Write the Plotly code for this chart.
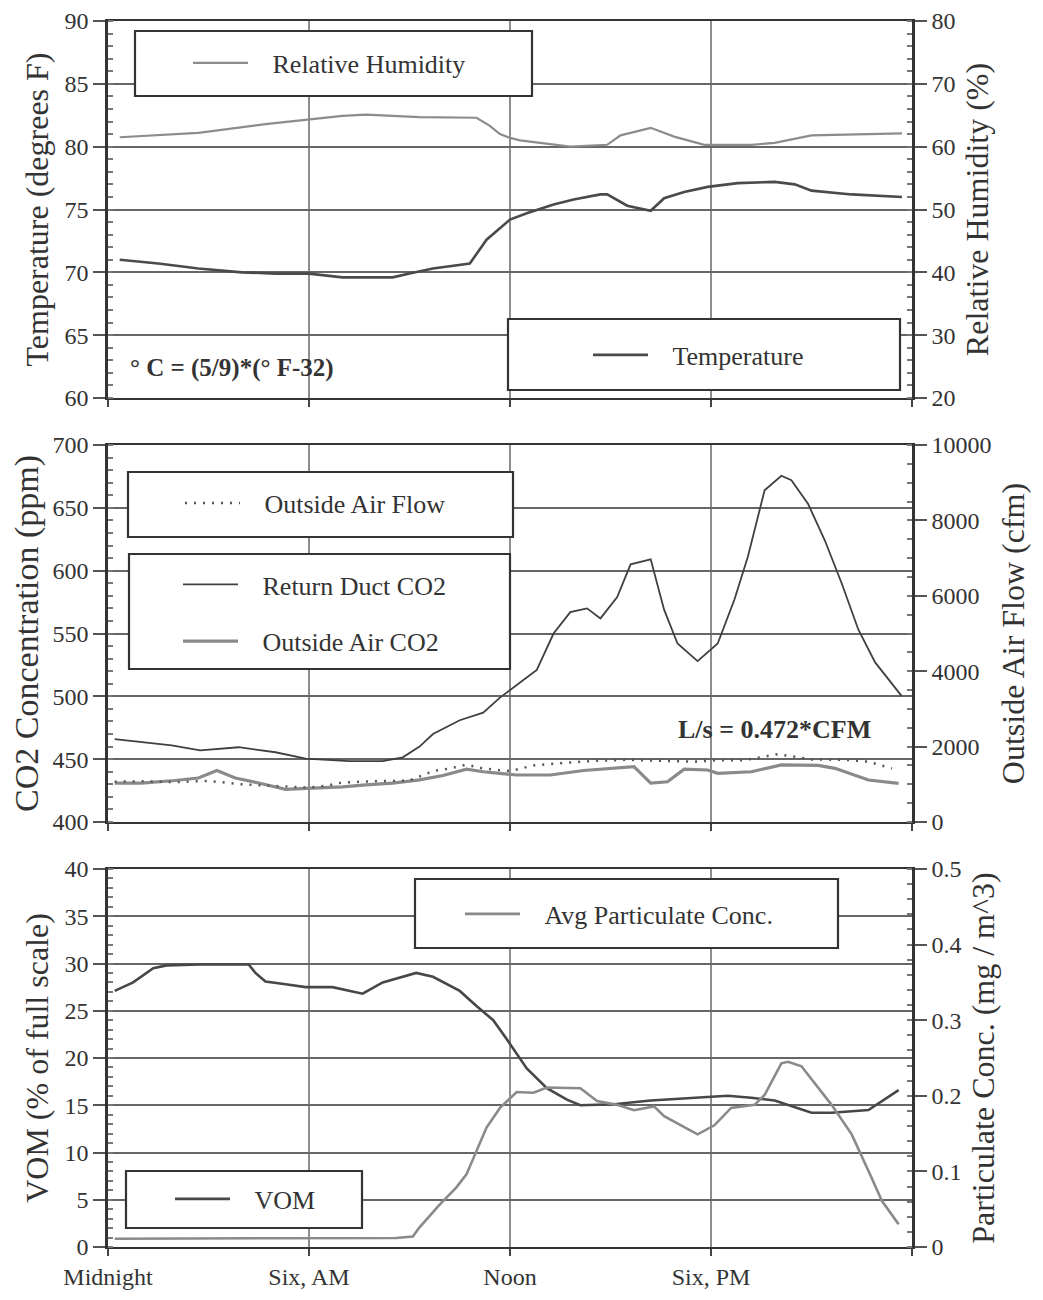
import plotly.graph_objects as go

# ---------------- data (hours after midnight) ----------------
temp_hours = [0.35, 1.5, 2.7, 4.0, 5.0, 6.0, 7.0, 8.0, 8.5, 9.0, 9.7, 10.8, 11.3, 12.0, 12.5, 13.3, 13.9,
              14.7, 14.9, 15.5, 16.2, 16.6, 17.2, 17.9, 18.8, 19.9, 20.5, 21.0, 22.2, 23.7]
temp_vals = [71.0, 70.7, 70.3, 70.0, 69.9, 69.9, 69.6, 69.6, 69.6, 69.9, 70.3, 70.7, 72.6, 74.2, 74.7, 75.4, 75.8,
             76.2, 76.2, 75.3, 74.9, 75.9, 76.4, 76.8, 77.1, 77.2, 77.0, 76.5, 76.2, 76.0]

rh_hours = [0.35, 2.7, 4.7, 6.0, 7.0, 7.7, 8.7, 9.3, 11.0, 11.4, 11.7, 12.0, 12.3, 13.8, 14.9, 15.3, 16.2,
            16.9, 17.8, 19.2, 19.9, 21.0, 23.7]
rh_vals = [61.5, 62.2, 63.6, 64.4, 64.9, 65.1, 64.9, 64.7, 64.6, 63.3, 62.0, 61.4, 61.0, 60.0, 60.3, 61.8, 63.0,
           61.6, 60.3, 60.3, 60.6, 61.8, 62.1]

rco2_hours = [0.2, 1.9, 2.75, 3.9, 5.0, 5.9, 7.2, 8.2, 8.8, 9.3, 9.7, 10.5, 11.2, 11.7, 12.3, 12.8, 13.3,
              13.8, 14.3, 14.7, 15.2, 15.6, 16.2, 16.6, 17.0, 17.6, 18.2, 18.7, 19.1, 19.6, 20.1, 20.4,
              20.9, 21.4, 21.9, 22.4, 22.9, 23.7]
rco2_vals = [466, 461, 457, 459.5, 455.5, 450.5, 448.5, 448.5, 451.5, 460, 470, 481, 487, 499, 511, 521, 550,
             567, 570, 562, 579, 605, 609, 569, 542, 528, 542, 577, 611, 664, 675.5, 672,
             653, 624, 590, 553, 527, 500]

oco2_hours = [0.2, 1.0, 2.0, 2.7, 3.25, 3.8, 4.5, 5.3, 6.1, 7.0, 7.7, 8.5, 9.3, 10.0, 10.7, 11.2, 11.7,
              12.2, 13.2, 14.2, 15.7, 16.2, 16.7, 17.2, 17.9, 18.2, 19.2, 20.1, 21.2, 21.7, 22.7, 23.6]
oco2_vals = [431, 431, 433, 435, 441, 435, 431, 426, 427, 428, 429.5, 431, 433.5, 437, 442, 440, 438.7,
             437.4, 437.4, 441, 444, 431, 432, 442, 441.4, 438.7, 440, 445.4, 445, 442.7, 433.4, 430.8]

flow_hours = [0.2, 1.0, 2.0, 3.0, 4.0, 5.0, 6.0, 6.5, 7.0, 8.0, 9.0, 9.7, 10.2, 10.7, 11.2, 12.0, 12.7,
              13.5, 14.5, 15.5, 16.5, 17.5, 18.2, 19.0, 20.0, 21.0, 22.0, 22.7, 23.4]
flow_vals = [1070, 1080, 1060, 1090, 1000, 950, 910, 960, 1050, 1080, 1100, 1350, 1420, 1520, 1420, 1350, 1500,
             1560, 1620, 1650, 1630, 1600, 1640, 1640, 1800, 1660, 1650, 1600, 1420]

vom_hours = [0.2, 0.75, 1.35, 1.75, 2.75, 4.2, 4.4, 4.7, 5.3, 5.9, 6.7, 7.6, 8.2, 9.2, 9.7, 10.5, 11.0,
             11.5, 11.9, 12.5, 13.1, 13.7, 14.1, 15.1, 16.2, 17.7, 18.5, 19.2, 19.9, 21.0, 21.6, 22.7,
             23.0, 23.6]
vom_vals = [27.1, 28.0, 29.5, 29.8, 29.9, 29.9, 29.0, 28.1, 27.8, 27.5, 27.5, 26.8, 28.0, 29.0, 28.6, 27.1, 25.5,
            24.0, 22.0, 18.9, 16.8, 15.6, 15.0, 15.1, 15.5, 15.8, 16.0, 15.8, 15.5, 14.2, 14.2, 14.5,
            15.2, 16.6]

part_hours = [0.2, 8.6, 9.1, 9.3, 9.9, 10.4, 10.7, 11.0, 11.3, 11.7, 12.2, 12.7, 13.1, 14.1, 14.6, 15.2,
              15.7, 16.3, 16.6, 17.6, 18.1, 18.6, 19.3, 19.6, 20.1, 20.3, 20.7, 21.6, 22.2, 22.8, 23.1, 23.6]
part_vals = [0.011, 0.012, 0.014, 0.026, 0.056, 0.079, 0.096, 0.126, 0.158, 0.184, 0.205, 0.204, 0.211,
             0.210, 0.193, 0.188, 0.181, 0.186, 0.173, 0.149, 0.161, 0.184, 0.188, 0.201, 0.243, 0.245,
             0.239, 0.188, 0.149, 0.091, 0.061, 0.030]

x_tickvals = [0, 6, 12, 18, 24]
x_ticktext = ["Midnight", "Six, AM", "Noon", "Six, PM", ""]

# ---------------- figure ----------------
FONT = "Liberation Serif, Times New Roman, serif"
TXT = "#333333"
OFF = 8                         # page body margin
W, H = 1043 - 2 * OFF, 1300 - 2 * OFF
SX0, SX1, SY0, SY1 = 108, 912, 21, 1247   # plot area in screen pixels
L, T = SX0 - OFF, SY0 - OFF
R = W - (SX1 - OFF)
B = H - (SY1 - OFF)


def px(xs):
    return (xs - SX0) / (SX1 - SX0)


def py(ys):
    return (SY1 - ys) / (SY1 - SY0)


NB = "\u00a0" * 3

fig = go.Figure()

fig.add_trace(go.Scatter(x=rh_hours, y=rh_vals, mode="lines", name=NB + "Relative Humidity",
                         line=dict(color="#8c8c8c", width=2.2), xaxis="x", yaxis="y2", legend="legend"))
fig.add_trace(go.Scatter(x=temp_hours, y=temp_vals, mode="lines", name=NB + "Temperature",
                         line=dict(color="#4a4a4a", width=2.6), xaxis="x", yaxis="y", legend="legend2"))

fig.add_trace(go.Scatter(x=flow_hours, y=flow_vals, mode="lines", name=NB + "Outside Air Flow",
                         line=dict(color="#555555", width=2.5, dash="2px,7px"), xaxis="x2", yaxis="y4",
                         legend="legend3"))
fig.add_trace(go.Scatter(x=oco2_hours, y=oco2_vals, mode="lines", name=NB + "Outside Air CO2",
                         line=dict(color="#8a8a8a", width=3.2), xaxis="x2", yaxis="y3",
                         legend="legend4", legendgroup="b", legendrank=2))
fig.add_trace(go.Scatter(x=rco2_hours, y=rco2_vals, mode="lines", name=NB + "Return Duct CO2",
                         line=dict(color="#404040", width=1.8), xaxis="x2", yaxis="y3",
                         legend="legend4", legendgroup="a", legendrank=1))

fig.add_trace(go.Scatter(x=part_hours, y=part_vals, mode="lines", name=NB + "Avg Particulate Conc.",
                         line=dict(color="#8a8a8a", width=2.6), xaxis="x3", yaxis="y6", legend="legend5"))
fig.add_trace(go.Scatter(x=vom_hours, y=vom_vals, mode="lines", name=NB + "VOM",
                         line=dict(color="#474747", width=2.6), xaxis="x3", yaxis="y5", legend="legend6"))

tickfont = dict(family=FONT, size=24, color=TXT)


def tfont(size=32):
    return dict(family=FONT, size=size, color=TXT)


def xax(anchor, labels):
    return dict(domain=[0, 1], anchor=anchor, range=[0, 24], tickvals=x_tickvals, ticktext=x_ticktext,
                showticklabels=labels, ticks="outside", ticklen=7, tickcolor="#444", tickwidth=1.5,
                showgrid=True, gridcolor="#8e8e8e", gridwidth=1.5, zeroline=False, automargin=False,
                showline=True, mirror=True, linecolor="#333333", linewidth=2,
                tickfont=dict(family=FONT, size=24, color=TXT))


def yleft(domain, anchor, rng, dtick, minor, title, tsize=32):
    return dict(domain=domain, anchor=anchor, range=rng, dtick=dtick, tick0=rng[0],
                ticks="outside", ticklen=12, tickcolor="#555", tickwidth=1.5,
                showgrid=True, gridcolor="#666666", gridwidth=1.8, zeroline=False, automargin=False,
                showline=True, linecolor="#333333", linewidth=2.5,
                minor=dict(ticks="inside", dtick=minor, ticklen=5, tickcolor="#777", showgrid=False),
                tickfont=tickfont, title=dict(text=title, font=tfont(tsize), standoff=7))


def yright(over, anchor, rng, dtick, minor, title, fmt=None):
    d = dict(overlaying=over, side="right", anchor=anchor, range=rng, dtick=dtick, tick0=rng[0],
             ticks="outside", ticklen=12, tickcolor="#555", tickwidth=1.5,
             showgrid=False, zeroline=False, automargin=False,
             showline=True, linecolor="#333333", linewidth=2.5,
             minor=dict(ticks="inside", dtick=minor, ticklen=5, tickcolor="#777", showgrid=False),
             tickfont=tickfont, title=dict(text=title, font=tfont(), standoff=12))
    if fmt:
        d["tickformat"] = fmt
    return d


p1 = [py(398), 1.0]
p2 = [py(822), py(445)]
p3 = [0.0, py(869)]

legfont = dict(family=FONT, size=26, color=TXT)


def leg(sample_x, yc, gap=0):
    return dict(x=px(sample_x - 5), y=py(yc), xanchor="left", yanchor="middle", bgcolor="rgba(0,0,0,0)",
                borderwidth=0, font=legfont, itemwidth=55, tracegroupgap=gap, itemclick=False)


boxes = [(135, 31, 532, 96), (508, 319, 900, 390), (128, 472, 513, 537),
         (129, 554, 510, 669), (415, 879, 838, 948), (126, 1171, 362, 1228)]
shapes = [dict(type="rect", xref="paper", yref="paper", x0=px(a), y0=py(b), x1=px(c), y1=py(d),
               line=dict(color="#333333", width=2.2), fillcolor="white", layer="above")
          for a, b, c, d in boxes]

fig.update_layout(
    width=W, height=H, margin=dict(l=L, r=R, t=T, b=B, autoexpand=False),
    paper_bgcolor="white", plot_bgcolor="white",
    font=dict(family=FONT, color=TXT),
    showlegend=True,
    xaxis=xax("y", False), xaxis2=xax("y3", False), xaxis3=xax("y5", True),
    yaxis=yleft(p1, "x", [60, 90], 5, 1, "Temperature (degrees F)"),
    yaxis2=yright("y", "x", [20, 80], 10, 2, "Relative Humidity (%)"),
    yaxis3=yleft(p2, "x2", [400, 700], 50, 10, "CO2 Concentration (ppm)", tsize=34),
    yaxis4=yright("y3", "x2", [0, 10000], 2000, 500, "Outside Air Flow (cfm)", fmt="d"),
    yaxis5=yleft(p3, "x3", [0, 40], 5, 1, "VOM (% of full scale)"),
    yaxis6=yright("y5", "x3", [0, 0.5], 0.1, 0.02, "Particulate Conc. (mg / m^3)"),
    legend=leg(193, 63), legend2=leg(593, 355), legend3=leg(185, 503),
    legend4=leg(183, 613, gap=20), legend5=leg(465, 914), legend6=leg(175, 1199),
    shapes=shapes,
    annotations=[
        dict(text="° C = (5/9)*(° F-32)", xref="paper", yref="paper", x=px(128), y=py(368),
             xanchor="left", yanchor="middle", showarrow=False,
             font=dict(family=FONT, size=25, color=TXT, weight="bold")),
        dict(text="L/s = 0.472*CFM", xref="paper", yref="paper", x=px(676), y=py(730),
             xanchor="left", yanchor="middle", showarrow=False,
             font=dict(family=FONT, size=26, color=TXT, weight="bold")),
    ],
)

fig.write_html("out.html")
